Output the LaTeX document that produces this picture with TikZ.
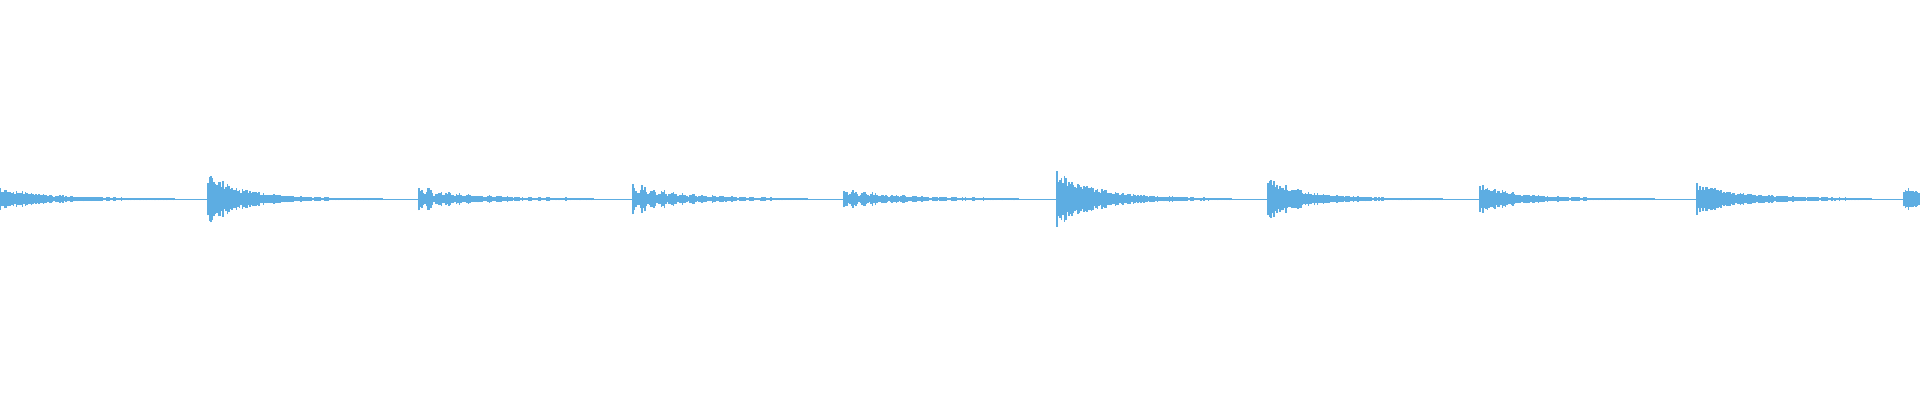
\documentclass[tikz,border=0pt]{standalone}
\definecolor{wave}{HTML}{5DADE2}
\tikzset{bar/.style={wave,line width=1pt}}
\begin{document}
\begin{tikzpicture}[x=0.02cm,y=0.02cm]
\pgfmathsetseed{7}
\useasboundingbox (0,0) rectangle (1920,400);
\draw [wave,line width=0.35pt] (0,201) -- (1920,201);
% bursts: start / amplitude / decay / lobes
\foreach \xs/\amp/\tau/\lob in {0/11/45/0, 208/26/35/0, 419/13/50/1, 633/18/45/1, 844/11/50/1,
  1057/28/40/0, 1268/22/35/0, 1480/15/35/0, 1697/15/45/0, 1904/12/40/0}{
  \foreach \k in {0,1.5,...,175}{
    \pgfmathsetmacro{\xx}{\xs+\k}
    \pgfmathsetmacro{\env}{\amp*exp(-\k/\tau)*(0.55+0.45*rnd)*(\lob==1 ? (0.35+0.65*abs(cos(\k*18))) : 1)+0.5+0.6*rnd}
    \ifdim\xx pt<1920pt
      \draw [bar] (\xx,201-\env) -- (\xx,201+\env);
    \fi
  }
}
\end{tikzpicture}
\end{document}
